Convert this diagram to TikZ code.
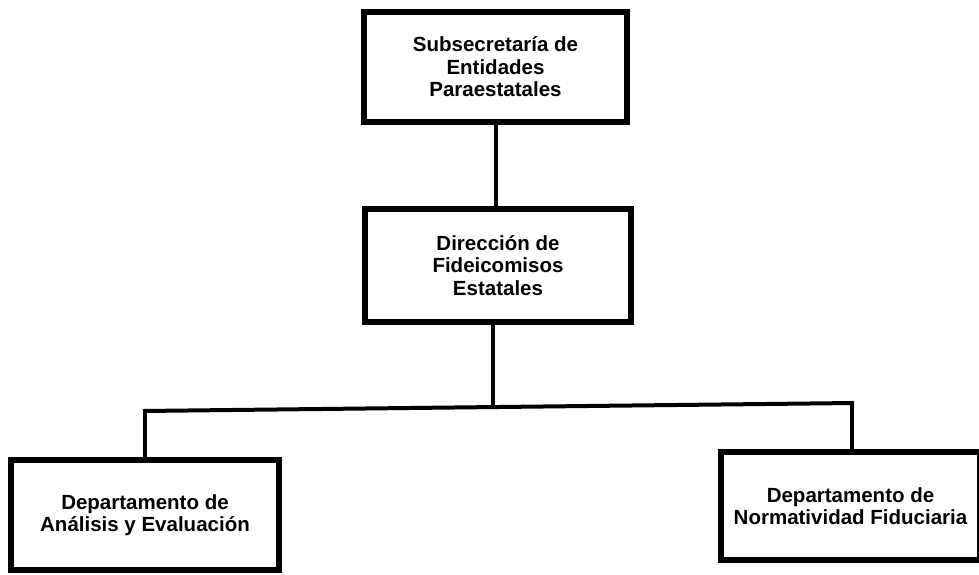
\documentclass[tikz,border=0pt]{standalone}
\usepackage{fontspec}
\setmainfont{Liberation Sans}
\begin{document}
\begin{tikzpicture}[x=1pt,y=-1pt,
  orgbox/.style={draw=black, line width=5.5pt, fill=white, align=center, inner sep=0pt,
    font=\fontsize{20.5}{22.5}\selectfont\bfseries},
  link/.style={draw=black, line width=4pt}]
\useasboundingbox (0,0) rectangle (979,575);
\node[orgbox, minimum width=263, minimum height=110] (sub) at (495.5,67)
  {Subsecretaría de\\Entidades\\Paraestatales};
\node[orgbox, minimum width=266, minimum height=113] (dir) at (498,265.5)
  {Dirección de\\Fideicomisos\\Estatales};
\node[orgbox, minimum width=268, minimum height=110] (ana) at (145,515)
  {Departamento de\\Análisis y Evaluación};
\node[orgbox, minimum width=259, minimum height=108] (nor) at (850.5,506)
  {Departamento de\\Normatividad Fiduciaria};
\coordinate (bus) at (493,407);
\coordinate (busL) at (145,411);
\coordinate (busR) at (852,403);
\draw[link] (sub.south) -- (sub.south |- dir.north);
\draw[link] (bus |- dir.south) -- (bus);
\draw[link] ([xshift=-2pt]busL) -- ([xshift=2pt]busR);
\draw[link] (busL) -- (busL |- ana.north);
\draw[link] (busR) -- (busR |- nor.north);
\end{tikzpicture}
\end{document}
